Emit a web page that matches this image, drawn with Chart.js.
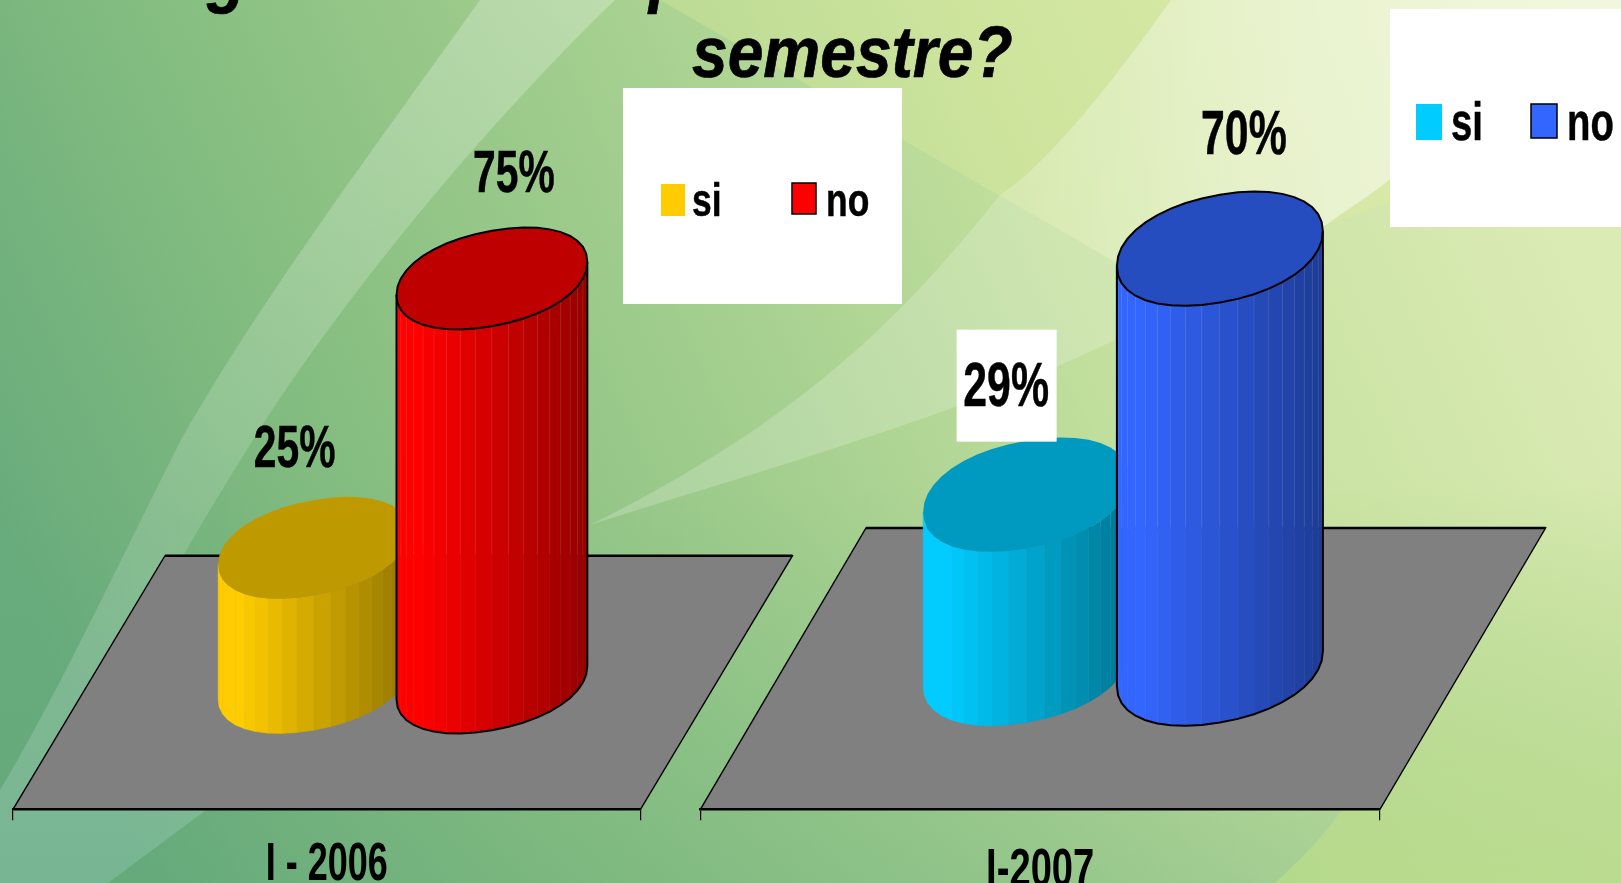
<!DOCTYPE html>
<html lang="es">
<head>
    <meta charset="utf-8" />
    <title>semestre?</title>
    <script src="https://cdn.jsdelivr.net/npm/chart.js@4"></script>
    <style>
        html, body { margin: 0; padding: 0; }
        body { width: 1621px; height: 883px; overflow: hidden; position: relative; background: #a5d092; }
        #bg, canvas { position: absolute; left: 0; top: 0; }
        .title {
            position: absolute;
            font: italic bold 72px/1 "Liberation Sans", sans-serif;
            color: #000;
            white-space: nowrap;
            transform-origin: 0 0;
            transform: scaleX(0.89);
            -webkit-text-stroke: 0.7px #000;
        }
    </style>
</head>
<body>
    <!-- slide background -->
    <svg id="bg" width="1621" height="883" viewBox="0 0 1621 883">
        <defs>
            <linearGradient id="base" x1="0" y1="0.62" x2="1" y2="0.38">
                <stop offset="0" stop-color="#68ab7c" />
                <stop offset="0.22" stop-color="#84bd80" />
                <stop offset="0.45" stop-color="#a0cd8d" />
                <stop offset="0.7" stop-color="#c4e09e" />
                <stop offset="1" stop-color="#dbebb4" />
            </linearGradient>
            <linearGradient id="low" x1="0" y1="0" x2="0" y2="1">
                <stop offset="0.55" stop-color="#5fa67a" stop-opacity="0" />
                <stop offset="1" stop-color="#5fa67a" stop-opacity="0.28" />
            </linearGradient>
            <linearGradient id="band" x1="0" y1="0" x2="0" y2="1">
                <stop offset="0" stop-color="#fff" stop-opacity="0.26" />
                <stop offset="0.6" stop-color="#fff" stop-opacity="0.14" />
                <stop offset="1" stop-color="#9fd0c8" stop-opacity="0.3" />
            </linearGradient>
            <linearGradient id="pale" x1="0" y1="0" x2="1" y2="0">
                <stop offset="0" stop-color="#fff" stop-opacity="0.2" />
                <stop offset="0.4" stop-color="#fff" stop-opacity="0.42" />
                <stop offset="1" stop-color="#fff" stop-opacity="0.6" />
            </linearGradient>
            <linearGradient id="corner" x1="0" y1="0" x2="0" y2="1">
                <stop offset="0" stop-color="#c4e28a" stop-opacity="0" />
                <stop offset="1" stop-color="#bfe088" stop-opacity="0.65" />
            </linearGradient>
        </defs>
        <rect width="1621" height="883" fill="url(#base)" />
        <rect width="1621" height="883" fill="url(#low)" />
        <path d="M660,0 L1115,262 L1326,225 L1621,120 L1621,0 Z" fill="#e6ee9c" fill-opacity="0.3" />
        <path d="M1171,0 C1100,100 1040,170 1000,195 L1115,262 L1326,225 C1360,200 1380,190 1400,170 L1621,60 L1621,0 Z" fill="url(#pale)" />
        <path d="M1000,195 C900,320 800,420 590,525 C760,470 950,420 1115,340 L1115,262 Z" fill="#fff" fill-opacity="0.2" />
        <path d="M1326,467 C1345,620 1350,730 1342,810 C1320,840 1300,860 1275,883 L1621,883 L1621,467 Z" fill="url(#corner)" />
        <path d="M480,0 C380,140 260,300 181,440 C120,560 60,690 0,790 L0,883 L108,883 L206,810 L96,760 C130,640 190,540 253,440 C340,300 490,120 615,0 Z" fill="url(#band)" />
    </svg>

    <div class="title" style="left:207px; top:-62px;">g</div>
    <div class="title" style="left:649px; top:-62px;">p</div>
    <div class="title" style="left:692px; top:16px;">semestre?</div>

    <canvas id="chart2006" width="1621" height="883"></canvas>
    <canvas id="chart2007" width="1621" height="883"></canvas>

    <script>
        // values
        var categories = ["I - 2006", "I-2007"];
        var seriesNames = ["si", "no"];
        var siValues = [25, 29];
        var noValues = [75, 70];
        var siColors = ["#ffcc00", "#00ccff"];
        var noColors = ["#ff0000", "#3366ff"];

        var FONT = '"Liberation Sans", sans-serif';

        // canvas text squeezed sideways, the slide was stretched
        function squeezedText(ctx, text, x, y, size, sx, align) {
            ctx.save();
            ctx.translate(x, y);
            ctx.scale(sx, 1);
            ctx.font = "bold " + size + "px " + FONT;
            ctx.fillStyle = ctx.strokeStyle = "#000";
            ctx.lineWidth = 0.5;
            ctx.textAlign = align;
            ctx.textBaseline = "alphabetic";
            ctx.fillText(text, 0, 0);
            ctx.strokeText(text, 0, 0);
            ctx.restore();
        }

        function shade(hex, f) {
            var n = parseInt(hex.slice(1), 16);
            var r = Math.round(((n >> 16) & 255) * f);
            var g = Math.round(((n >> 8) & 255) * f);
            var b = Math.round((n & 255) * f);
            return "rgb(" + r + "," + g + "," + b + ")";
        }

        // a bit fuller than a true ellipse
        function rimPoint(cx, cy, a, view, t) {
            var c = Math.cos(t), s = Math.sin(t);
            c = (c < 0 ? -1 : 1) * Math.pow(Math.abs(c), 0.94);
            s = (s < 0 ? -1 : 1) * Math.pow(Math.abs(s), 0.94);
            return [cx + a * c, cy + view.flat * s - view.tilt * c];
        }

        function drawCylinder(ctx, bar, color, outlined, view, backY) {
            var N = 40;
            var a = bar.width / 2;
            var cx = bar.x + view.depthX / 2;
            var topY = bar.y + view.depthY / 2;
            var baseY = bar.base + view.depthY / 2;
            var i, t, t2, p1, p2, p3, p4;

            // side facets, front half of the rim only
            for (i = 0; i < N / 2; i++) {
                t = i * 2 * Math.PI / N;
                t2 = (i + 1) * 2 * Math.PI / N;
                p1 = rimPoint(cx, topY, a, view, t);
                p2 = rimPoint(cx, topY, a, view, t2);
                p3 = rimPoint(cx, baseY, a, view, t2);
                p4 = rimPoint(cx, baseY, a, view, t);
                var u = ((p1[0] + p2[0]) / 2 - (cx - a)) / (2 * a);
                var f = u < 0.12 ? 1 : 1 - 0.42 * (u - 0.12) / 0.88;
                ctx.fillStyle = ctx.strokeStyle = shade(color, f);
                ctx.lineWidth = 0.5;
                ctx.beginPath();
                ctx.moveTo(p1[0], p1[1]);
                ctx.lineTo(p2[0], p2[1]);
                ctx.lineTo(p3[0], p3[1]);
                ctx.lineTo(p4[0], p4[1]);
                ctx.closePath();
                ctx.fill();
                ctx.stroke();
            }

            // faint seams, stronger above the back edge of the floor
            ctx.lineWidth = 1;
            for (i = 1; i < N / 2; i++) {
                t = i * 2 * Math.PI / N;
                p1 = rimPoint(cx, topY, a, view, t);
                p4 = rimPoint(cx, baseY, a, view, t);
                if (p1[1] < backY) {
                    ctx.strokeStyle = "rgba(255,255,255,0.08)";
                    ctx.beginPath();
                    ctx.moveTo(p1[0], p1[1]);
                    ctx.lineTo(p1[0], backY);
                    ctx.stroke();
                }
                ctx.strokeStyle = "rgba(255,255,255,0.03)";
                ctx.beginPath();
                ctx.moveTo(p4[0], Math.max(backY, p1[1]));
                ctx.lineTo(p4[0], p4[1]);
                ctx.stroke();
            }

            // lid
            ctx.beginPath();
            for (i = 0; i < N; i++) {
                p1 = rimPoint(cx, topY, a, view, i * 2 * Math.PI / N);
                if (i === 0) ctx.moveTo(p1[0], p1[1]); else ctx.lineTo(p1[0], p1[1]);
            }
            ctx.closePath();
            ctx.fillStyle = shade(color, 0.75);
            ctx.fill();

            if (outlined) {
                ctx.strokeStyle = "#000";
                ctx.lineWidth = 2;
                ctx.stroke();
                ctx.beginPath();
                p1 = rimPoint(cx, topY, a, view, 0);
                ctx.moveTo(p1[0], p1[1]);
                for (i = 0; i <= N / 2; i++) {
                    p1 = rimPoint(cx, baseY, a, view, i * 2 * Math.PI / N);
                    ctx.lineTo(p1[0], p1[1]);
                }
                p1 = rimPoint(cx, topY, a, view, Math.PI);
                ctx.lineTo(p1[0], p1[1]);
                ctx.stroke();
            }
        }

        var cylinderPlugin = {
            id: "cylinders",
            beforeDraw: function (chart, args, view) {
                // gray floor, front edge sits on the x axis
                var ctx = chart.ctx;
                var area = chart.chartArea;
                ctx.save();
                ctx.beginPath();
                ctx.moveTo(area.left, area.bottom);
                ctx.lineTo(area.right, area.bottom);
                ctx.lineTo(area.right + view.depthX, area.bottom + view.depthY);
                ctx.lineTo(area.left + view.depthX, area.bottom + view.depthY);
                ctx.closePath();
                ctx.fillStyle = "#808080";
                ctx.fill();
                ctx.strokeStyle = "#000";
                ctx.lineWidth = 1.4;
                ctx.stroke();
                ctx.lineWidth = 2.5;
                ctx.beginPath();
                ctx.moveTo(area.left + view.depthX, area.bottom + view.depthY);
                ctx.lineTo(area.right + view.depthX, area.bottom + view.depthY);
                ctx.stroke();
                ctx.restore();
            },
            afterDatasetsDraw: function (chart, args, view) {
                var ctx = chart.ctx;
                var backY = chart.chartArea.bottom + view.depthY;
                ctx.save();
                chart.data.datasets.forEach(function (ds, i) {
                    var bar = chart.getDatasetMeta(i).data[0];
                    drawCylinder(ctx, bar, ds.hoverBackgroundColor, i === 1, view, backY);
                });
                // value labels
                chart.data.datasets.forEach(function (ds, i) {
                    var bar = chart.getDatasetMeta(i).data[0];
                    var spot = view.labels[i];
                    var x = bar.x + view.depthX / 2 + spot[0];
                    var y = bar.y + view.depthY / 2 + spot[1];
                    if (spot[2]) {
                        ctx.fillStyle = "#fff";
                        ctx.fillRect(x - 49.5, y - 55, 100, 112);
                    }
                    squeezedText(ctx, ds.data[0] + "%", x, y + 21, view.labelSize, 0.68, "center");
                });
                // legend
                var lg = view.legend;
                ctx.fillStyle = "#fff";
                ctx.fillRect(lg.box[0], lg.box[1], lg.box[2], lg.box[3]);
                chart.data.datasets.forEach(function (ds, i) {
                    var sw = lg.swatches[i];
                    ctx.fillStyle = ds.hoverBackgroundColor;
                    ctx.fillRect(sw[0], sw[1], sw[2], sw[3]);
                    if (i === 1) {
                        ctx.strokeStyle = "#000";
                        ctx.lineWidth = 1.5;
                        ctx.strokeRect(sw[0], sw[1], sw[2], sw[3]);
                    }
                    squeezedText(ctx, ds.label, lg.text[i], lg.baseline, lg.size, lg.squeeze, "left");
                });
                ctx.restore();
            }
        };

        function makeChart(canvasId, idx, view) {
            return new Chart(document.getElementById(canvasId), {
                type: "bar",
                data: {
                    labels: [categories[idx]],
                    datasets: [
                        { label: seriesNames[0], data: [siValues[idx]], backgroundColor: "rgba(0,0,0,0)", hoverBackgroundColor: siColors[idx] },
                        { label: seriesNames[1], data: [noValues[idx]], backgroundColor: "rgba(0,0,0,0)", hoverBackgroundColor: noColors[idx] }
                    ]
                },
                plugins: [cylinderPlugin],
                options: {
                    responsive: false,
                    animation: false,
                    devicePixelRatio: 1,
                    categoryPercentage: view.catPct,
                    barPercentage: view.barPct,
                    layout: { padding: { left: view.left, right: 1621 - view.right, top: 809.3 - 100 * view.perUnit, bottom: 0 } },
                    plugins: {
                        legend: { display: false },
                        title: { display: false },
                        tooltip: { enabled: false },
                        cylinders: view
                    },
                    scales: {
                        x: {
                            grid: { drawOnChartArea: false, drawTicks: true, tickLength: 11, color: "#000", lineWidth: 1.2 },
                            border: { color: "#000", width: 2.5 },
                            ticks: {
                                color: "#000",
                                maxRotation: 0,
                                padding: view.tickPad,
                                font: { family: "Liberation Sans", weight: "bold", size: 53 }
                            },
                            afterFit: function (scale) {
                                scale.height = 883 - 809.3;
                                // same squeeze for the category label
                                if (!scale._squeezed) {
                                    scale._squeezed = true;
                                    var drawLabels = scale.drawLabels;
                                    scale.drawLabels = function (area) {
                                        var c = this.ctx;
                                        var mid = (this.left + this.right) / 2;
                                        c.save();
                                        c.translate(mid, 0);
                                        c.scale(view.tickSqueeze, 1);
                                        c.translate(-mid, 0);
                                        drawLabels.call(this, area);
                                        c.restore();
                                    };
                                }
                            }
                        },
                        y: { display: false, min: 0, max: 100 }
                    }
                }
            });
        }

        makeChart("chart2006", 0, {
            left: 13, right: 640.5, perUnit: 5.387,
            depthX: 152, depthY: -253.6, flat: 47.7, tilt: 16.5,
            catPct: 0.5684, barPct: 1.07, tickPad: 13, tickSqueeze: 0.68,
            labelSize: 60,
            labels: [[-19, -102, false], [22, -107, false]],
            legend: {
                box: [623, 88, 279, 216],
                swatches: [[661, 184, 24, 32], [792, 183, 24, 31]],
                text: [692, 826], baseline: 216, size: 46, squeeze: 0.77
            }
        });

        makeChart("chart2007", 1, {
            left: 700.4, right: 1380, perUnit: 6,
            depthX: 165.6, depthY: -281.3, flat: 53.9, tilt: 17.5,
            catPct: 0.5702, barPct: 1.063, tickPad: 19, tickSqueeze: 0.72,
            labelSize: 63,
            labels: [[-20, -110, true], [24, -116, false]],
            legend: {
                box: [1390, 9, 231, 218],
                swatches: [[1416, 104, 26, 36], [1531, 104, 26, 34]],
                text: [1451, 1567], baseline: 140, size: 54, squeeze: 0.71
            }
        });
    </script>
</body>
</html>
